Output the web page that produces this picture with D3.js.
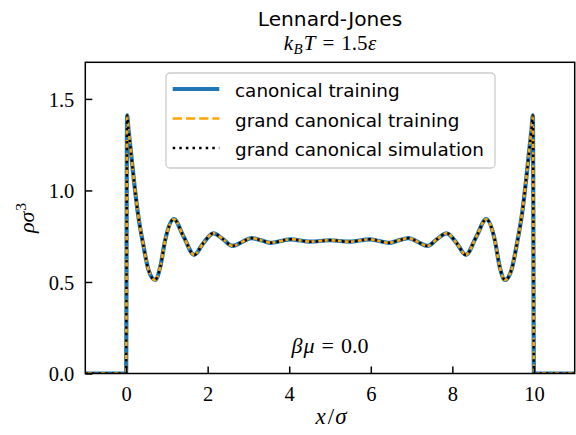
<!DOCTYPE html>
<html>
<head>
<meta charset="utf-8">
<script src="https://cdn.jsdelivr.net/npm/d3@7"></script>
<style>
	body { margin: 0; background: #fff; }
	svg { display: block; }
	.sans { font-family: 'DejaVu Sans', sans-serif; }
	.math { font-family: 'Liberation Serif', serif; }
</style>
</head>
<body>
<svg id="chart" width="576" height="435"></svg>
<script>
// values
const xTicks		= [0, 2, 4, 6, 8, 10];
const yTicks		= [0.0, 0.5, 1.0, 1.5];
const xPos			= [-1, 0, 0.025, 0.06, 0.1, 0.19, 0.29, 0.43, 0.55, 0.71, 0.84, 0.96, 1.17, 1.41, 1.67, 1.89, 2.14, 2.38, 2.61, 2.84, 3.07, 3.32, 3.56, 3.8, 4.03, 4.52, 5.0,
					   5.48, 5.97, 6.2, 6.44, 6.68, 6.93, 7.16, 7.39, 7.62, 7.86, 8.11, 8.33, 8.59, 8.83, 9.04, 9.16, 9.29, 9.45, 9.57, 9.71, 9.81, 9.9, 9.94, 9.975, 10, 11];
const rho			= [0, 0, 1.41, 1.33, 1.25, 1.06, 0.875, 0.693, 0.566, 0.511, 0.584, 0.73, 0.843, 0.748, 0.648, 0.711, 0.766, 0.733, 0.697, 0.718, 0.740, 0.727, 0.714, 0.724, 0.733, 0.720, 0.728,
					   0.720, 0.733, 0.724, 0.714, 0.727, 0.740, 0.718, 0.697, 0.733, 0.766, 0.711, 0.648, 0.748, 0.843, 0.73, 0.584, 0.511, 0.566, 0.693, 0.875, 1.06, 1.25, 1.33, 1.41, 0, 0];
const seriesNames	= ['canonical training', 'grand canonical training', 'grand canonical simulation'];
const seriesValues	= [rho, rho, rho];

const styles = [
	{ color: '#1f77b4', width: 4.2, dash: null },
	{ color: '#ffa500', width: 2.5, dash: '9.25 4' },
	{ color: '#000000', width: 2.5, dash: '2.5 4.1' }
];

let svg		= d3.select('#chart');
let plotL	= 85.3, plotR = 574.7, plotT = 62.3, plotB = 373.5;

let x		= d3.scaleLinear().domain([-1, 11]).range([plotL, plotR]);
let y		= d3.scaleLinear().domain([0, 1.7]).range([plotB, plotT]);

svg.append('defs').append('clipPath').attr('id', 'plot-area')
	.append('rect').attr('x', plotL).attr('y', plotT).attr('width', plotR - plotL).attr('height', plotB - plotT);

let line	= d3.line().x((d) => x(d[0])).y((d) => y(d[1])).curve(d3.curveMonotoneX);
let curves	= svg.append('g').attr('clip-path', 'url(#plot-area)');

seriesValues.forEach((values, i) => {
	let path = curves.append('path')
		.datum(d3.zip(xPos, values))
		.attr('d', line)
		.attr('fill', 'none')
		.attr('stroke', styles[i].color)
		.attr('stroke-width', styles[i].width)
		.attr('stroke-linejoin', 'round');
	if (styles[i].dash) path.attr('stroke-dasharray', styles[i].dash);
});

// axes with inward ticks
let xAxis	= svg.append('g').attr('transform', 'translate(0,' + plotB + ')')
	.call(d3.axisBottom(x).tickValues(xTicks).tickSizeInner(-7).tickSizeOuter(0).tickPadding(13).tickFormat(d3.format('d')));
let yAxis	= svg.append('g').attr('transform', 'translate(' + plotL + ',0)')
	.call(d3.axisLeft(y).tickValues(yTicks).tickSizeInner(-7).tickSizeOuter(0).tickPadding(11).tickFormat(d3.format('.1f')));

[xAxis, yAxis].forEach((a) => {
	a.select('.domain').remove();
	a.selectAll('.tick line').attr('stroke', '#000').attr('stroke-width', 1.5);
	a.selectAll('.tick text').attr('class', 'math').attr('font-size', 20.5).attr('fill', '#000');
});
yAxis.selectAll('.tick text').attr('dy', '0.36em');

svg.append('rect').attr('x', plotL).attr('y', plotT).attr('width', plotR - plotL).attr('height', plotB - plotT)
	.attr('fill', 'none').attr('stroke', '#000').attr('stroke-width', 1.5);

// legend
let legend	= svg.append('g').attr('transform', 'translate(166,73)');
legend.append('rect').attr('width', 329).attr('height', 95).attr('rx', 4)
	.attr('fill', '#fff').attr('fill-opacity', 0.8).attr('stroke', '#cccccc').attr('stroke-width', 1.3);

seriesNames.forEach((name, i) => {
	let row = legend.append('g').attr('transform', 'translate(0,' + (16 + i * 29.5) + ')');
	let handle = row.append('line').attr('x1', 6.7).attr('x2', 53.3).attr('y1', 0).attr('y2', 0)
		.attr('stroke', styles[i].color).attr('stroke-width', styles[i].width);
	if (styles[i].dash) handle.attr('stroke-dasharray', styles[i].dash);
	row.append('text').attr('class', 'sans').attr('x', 69).attr('y', 8.3).attr('font-size', 18.4).text(name);
});

// titles and labels
svg.append('text').attr('class', 'sans').attr('x', 330).attr('y', 25.5).attr('text-anchor', 'middle').attr('font-size', 20.2).text('Lennard-Jones');

let sub = svg.append('text').attr('class', 'math').attr('x', 330).attr('y', 49.5).attr('text-anchor', 'middle').attr('font-size', 21);
sub.append('tspan').attr('font-style', 'italic').text('k');
sub.append('tspan').attr('font-style', 'italic').attr('font-size', 15).attr('dy', 4).attr('dx', 0.5).text('B');
sub.append('tspan').attr('font-style', 'italic').attr('dy', -4).attr('dx', 1).text('T');
sub.append('tspan').attr('dx', 7).text('=');
sub.append('tspan').attr('dx', 7).text('1.5');
sub.append('tspan').attr('font-style', 'italic').attr('dx', 0.5).text('ε');

let mu = svg.append('text').attr('class', 'math').attr('x', 330).attr('y', 352.5).attr('text-anchor', 'middle').attr('font-size', 22);
mu.append('tspan').attr('font-style', 'italic').text('β');
mu.append('tspan').attr('font-style', 'italic').attr('dx', 1).text('μ');
mu.append('tspan').attr('dx', 7).text('=');
mu.append('tspan').attr('dx', 7).text('0.0');

let xl = svg.append('text').attr('class', 'math').attr('x', 331).attr('y', 424).attr('text-anchor', 'middle').attr('font-size', 23).attr('font-style', 'italic');
xl.append('tspan').text('x');
xl.append('tspan').attr('font-style', 'normal').attr('dx', 2).text('/');
xl.append('tspan').attr('dx', 1).text('σ');

let yl = svg.append('text').attr('class', 'math').attr('transform', 'translate(34,218) rotate(-90)').attr('text-anchor', 'middle').attr('font-size', 22);
yl.append('tspan').attr('font-style', 'italic').text('ρσ');
yl.append('tspan').attr('font-size', 15.5).attr('dy', -8).attr('dx', 1).text('3');
</script>
</body>
</html>
